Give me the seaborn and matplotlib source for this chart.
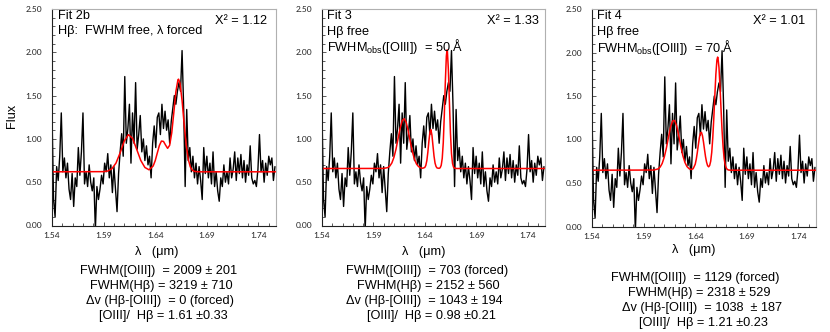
import matplotlib
matplotlib.use("Agg")
import matplotlib.pyplot as plt
import numpy as np
import pandas as pd
import seaborn as sns
from matplotlib.ticker import MultipleLocator, FixedLocator

# ---------------- data ----------------
wavelength = [
    1.5400, 1.5415, 1.5430, 1.5445, 1.5460, 1.5475, 1.5490, 1.5505, 1.5520, 1.5535,
    1.5550, 1.5565, 1.5580, 1.5595, 1.5610, 1.5625, 1.5640, 1.5655, 1.5670, 1.5685,
    1.5700, 1.5715, 1.5730, 1.5745, 1.5760, 1.5775, 1.5790, 1.5805, 1.5820, 1.5835,
    1.5850, 1.5865, 1.5880, 1.5895, 1.5910, 1.5925, 1.5940, 1.5955, 1.5970, 1.5985,
    1.6000, 1.6015, 1.6030, 1.6045, 1.6060, 1.6075, 1.6090, 1.6105, 1.6120, 1.6135,
    1.6150, 1.6165, 1.6180, 1.6195, 1.6210, 1.6225, 1.6240, 1.6255, 1.6270, 1.6285,
    1.6300, 1.6315, 1.6330, 1.6345, 1.6360, 1.6375, 1.6390, 1.6405, 1.6420, 1.6435,
    1.6450, 1.6465, 1.6480, 1.6495, 1.6510, 1.6525, 1.6540, 1.6555, 1.6570, 1.6585,
    1.6600, 1.6615, 1.6630, 1.6645, 1.6660, 1.6675, 1.6690, 1.6705, 1.6720, 1.6735,
    1.6750, 1.6765, 1.6780, 1.6795, 1.6810, 1.6825, 1.6840, 1.6855, 1.6870, 1.6885,
    1.6900, 1.6915, 1.6930, 1.6945, 1.6960, 1.6975, 1.6990, 1.7005, 1.7020, 1.7035,
    1.7050, 1.7065, 1.7080, 1.7095, 1.7110, 1.7125, 1.7140, 1.7155, 1.7170, 1.7185,
    1.7200, 1.7215, 1.7230, 1.7245, 1.7260, 1.7275, 1.7290, 1.7305, 1.7320, 1.7335,
    1.7350, 1.7365, 1.7380, 1.7395, 1.7410, 1.7425, 1.7440, 1.7455, 1.7470, 1.7485,
    1.7500, 1.7515, 1.7530, 1.7545, 1.7560,
]
flux = [
    1.30, 0.30, 0.10, 0.68, 0.52, 0.80, 1.30, 0.62, 0.78, 0.55,
    0.72, 0.42, 0.30, 0.60, 0.22, 0.55, 0.45, 0.90, 0.58, 0.85,
    1.30, 0.48, 0.62, 0.45, 0.70, 0.50, 0.40, 0.55, -0.05, 0.45,
    0.30, 0.42, 0.58, 0.48, 0.72, 0.62, 0.83, 0.55, 0.70, 0.38,
    0.68, 0.42, 0.16, 0.60, 0.85, 1.06, 0.80, 1.72, 0.95, 1.12,
    1.40, 0.72, 1.30, 0.95, 1.65, 0.88, 1.05, 1.27, 0.85, 1.00,
    0.75, 0.92, 0.70, 0.80, 0.55, 0.95, 1.15, 0.90, 1.25, 1.30,
    1.05, 1.40, 1.12, 1.32, 1.10, 1.22, 0.95, 1.20, 1.35, 1.50,
    1.40, 1.55, 1.65, 1.55, 2.02, 1.38, 0.45, 1.34, 0.75, 0.90,
    0.62, 0.80, 0.55, 0.72, 0.48, 0.68, 0.52, 0.30, 0.90, 0.60,
    0.80, 0.55, 0.72, 0.48, 0.85, 0.45, 0.62, 0.40, 0.28, 0.55,
    0.45, 0.70, 0.50, 0.62, 0.48, 0.78, 0.55, 0.65, 0.85, 0.52,
    0.78, 0.60, 0.82, 0.55, 0.75, 0.50, 0.70, 0.58, 0.92, 0.55,
    0.48, 0.52, 0.45, 0.65, 1.05, 0.62, 0.75, 0.50, 0.72, 0.58,
    0.80, 0.70, 0.78, 0.52, 0.68,
]

fit2b_wl = [1.540, 1.590, 1.594, 1.598, 1.602, 1.606, 1.610, 1.614, 1.618, 1.622,
            1.626, 1.630, 1.634, 1.638, 1.640, 1.642, 1.644, 1.646, 1.648, 1.650,
            1.652, 1.654, 1.656, 1.658, 1.660, 1.662, 1.6626, 1.664, 1.666, 1.668,
            1.670, 1.672, 1.674, 1.676, 1.678, 1.682, 1.757]
fit2b_flux = [0.620, 0.622, 0.629, 0.655, 0.721, 0.839, 0.975, 1.049, 1.007, 0.881,
              0.751, 0.670, 0.643, 0.687, 0.749, 0.837, 0.923, 0.975, 0.971, 0.929,
              0.891, 0.927, 1.070, 1.302, 1.544, 1.683, 1.690, 1.644, 1.444, 1.173,
              0.931, 0.765, 0.676, 0.638, 0.625, 0.620, 0.620]

fit3_wl = [1.540, 1.600, 1.604, 1.606, 1.608, 1.610, 1.612, 1.614, 1.616, 1.618,
           1.620, 1.622, 1.624, 1.626, 1.628, 1.630, 1.632, 1.634, 1.636, 1.638,
           1.640, 1.641, 1.642, 1.643, 1.644, 1.645, 1.6458, 1.646, 1.647, 1.648,
           1.649, 1.650, 1.651, 1.652, 1.654, 1.655, 1.656, 1.657, 1.658, 1.659,
           1.660, 1.661, 1.6617, 1.662, 1.663, 1.664, 1.665, 1.666, 1.667, 1.668,
           1.669, 1.671, 1.757]
fit3_flux = [0.658, 0.659, 0.669, 0.687, 0.723, 0.787, 0.882, 1.002, 1.122, 1.210,
             1.234, 1.188, 1.087, 0.964, 0.851, 0.764, 0.709, 0.680, 0.666, 0.661,
             0.670, 0.693, 0.748, 0.846, 0.972, 1.077, 1.108, 1.106, 1.041, 0.920,
             0.802, 0.721, 0.681, 0.664, 0.660, 0.667, 0.695, 0.775, 0.956, 1.269,
             1.653, 1.955, 2.028, 2.015, 1.793, 1.418, 1.066, 0.832, 0.718, 0.674,
             0.662, 0.658, 0.658]

fit4_wl = [1.540, 1.600, 1.604, 1.606, 1.608, 1.610, 1.612, 1.614, 1.616, 1.618,
           1.620, 1.622, 1.624, 1.626, 1.628, 1.630, 1.632, 1.634, 1.636, 1.638,
           1.640, 1.641, 1.642, 1.643, 1.644, 1.645, 1.646, 1.647, 1.648, 1.649,
           1.650, 1.651, 1.652, 1.653, 1.654, 1.655, 1.656, 1.657, 1.658, 1.659,
           1.660, 1.661, 1.6617, 1.662, 1.663, 1.664, 1.665, 1.666, 1.667, 1.668,
           1.669, 1.670, 1.671, 1.672, 1.674, 1.757]
fit4_flux = [0.647, 0.649, 0.662, 0.683, 0.725, 0.797, 0.898, 1.022, 1.138, 1.212,
             1.219, 1.157, 1.047, 0.924, 0.815, 0.737, 0.689, 0.665, 0.655, 0.664,
             0.716, 0.773, 0.849, 0.937, 1.019, 1.073, 1.083, 1.045, 0.972, 0.884,
             0.801, 0.739, 0.699, 0.686, 0.702, 0.751, 0.853, 1.020, 1.246, 1.507,
             1.751, 1.912, 1.947, 1.941, 1.829, 1.610, 1.349, 1.102, 0.914, 0.785,
             0.710, 0.674, 0.657, 0.650, 0.647, 0.647]

panel_titles = [["Fit 2b", "H\u03b2:  FWHM free, \u03bb forced"],
                ["Fit 3", "H\u03b2 free", "FWHM$_{\\mathrm{obs}}$([OIII])  = 50 \u00c5"],
                ["Fit 4", "H\u03b2 free", "FWHM$_{\\mathrm{obs}}$([OIII])  = 70 \u00c5"]]
chi2_labels = ["X\u00b2 = 1.12", "X\u00b2 = 1.33", "X\u00b2 = 1.01"]
result_lines = [
    ["FWHM([OIII])  = 2009 \u00b1 201", "FWHM(H\u03b2) = 3219 \u00b1 710",
     "\u0394v (H\u03b2-[OIII])  = 0 (forced)", "[OIII]/  H\u03b2 = 1.61 \u00b10.33"],
    ["FWHM([OIII])  = 703 (forced)", "FWHM(H\u03b2) = 2152 \u00b1 560",
     "\u0394v (H\u03b2-[OIII])  = 1043 \u00b1 194", "[OIII]/  H\u03b2 = 0.98 \u00b10.21"],
    ["FWHM([OIII])  = 1129 (forced)", "FWHM(H\u03b2) = 2318 \u00b1 529",
     "\u0394v (H\u03b2-[OIII])  = 1038  \u00b1 187", "[OIII]/  H\u03b2 = 1.21 \u00b10.23"],
]
xticks = [1.54, 1.59, 1.64, 1.69, 1.74]
yticks = [0.00, 0.50, 1.00, 1.50, 2.00, 2.50]

# ---------------- style ----------------
sns.set_style("ticks")
plt.rcParams["font.family"] = ["Liberation Sans", "DejaVu Sans"]
plt.rcParams["text.color"] = "black"
plt.rcParams["mathtext.fontset"] = "custom"
plt.rcParams["mathtext.rm"] = "Liberation Sans"
plt.rcParams["mathtext.it"] = "Liberation Sans:italic"

FS = 9.2
W, H = 830, 332
fig = plt.figure(figsize=(W / 100, H / 100), dpi=100)

spec = pd.DataFrame({"wl": wavelength, "flux": flux})
models = [pd.DataFrame({"wl": fit2b_wl, "flux": fit2b_flux}),
          pd.DataFrame({"wl": fit3_wl, "flux": fit3_flux}),
          pd.DataFrame({"wl": fit4_wl, "flux": fit4_flux})]

# pixel layout: (left, right, top, bottom)
boxes = [(52, 276, 9, 225.5), (322, 545, 9, 225.5), (592, 816, 9, 226.5)]
title_x = [58, 327, 597]
title_y = [[16, 31], [16, 31.5, 46.5], [16, 32.5, 47.5]]
chi_x = [267, 538.5, 805]
xlabel_pos = [(157, 252), (424, 252), (694, 250)]
res_x = [[158.5, 161.7, 159.7, 163], [426.7, 428.3, 424, 431.5], [695.3, 699, 701.7, 703]]
res_y = [[271, 286, 301, 316], [271, 286, 301, 316], [278.3, 293.3, 308.3, 323]]

def fx(x):
    return x / W

def fy(y):
    return 1 - y / H

for k, (l, r, t, b) in enumerate(boxes):
    ax = fig.add_axes([fx(l), fy(b), (r - l) / W, (b - t) / H])
    sns.lineplot(data=spec, x="wl", y="flux", ax=ax, color="black", lw=1.0,
                 estimator=None, sort=False)
    sns.lineplot(data=models[k], x="wl", y="flux", ax=ax, color="#ff0000", lw=1.1,
                 estimator=None, sort=False)
    ax.set_xlim(1.54, 1.757)
    ax.set_ylim(0, 2.5)
    ax.set_xlabel("")
    ax.set_ylabel("")
    ax.xaxis.set_major_locator(FixedLocator(xticks))
    ax.xaxis.set_minor_locator(MultipleLocator(0.01))
    ax.yaxis.set_major_locator(FixedLocator(yticks))
    ax.yaxis.set_minor_locator(MultipleLocator(0.1))
    ax.set_xticklabels([f"{v:.2f}" for v in xticks], fontsize=6, family="Lato",
                       color="#222222")
    ax.set_yticklabels([f"{v:.2f}" for v in yticks], fontsize=6, family="Lato",
                       color="#222222")
    ax.tick_params(axis="both", which="major", direction="in", length=3, width=0.6,
                   color="#404040")
    ax.tick_params(axis="both", which="minor", direction="in", length=2, width=0.6,
                   color="#404040")
    ax.tick_params(axis="y", which="both", pad=7)
    ax.tick_params(axis="x", which="both", pad=5)
    ax.tick_params(axis="both", which="both", top=False, right=False)
    for s in ["left", "bottom"]:
        ax.spines[s].set_color("#202020")
        ax.spines[s].set_linewidth(0.8)
    for s in ["top", "right"]:
        ax.spines[s].set_visible(True)
        ax.spines[s].set_color("#b0b0b0")
        ax.spines[s].set_linewidth(0.8)

    for txt, yy in zip(panel_titles[k], title_y[k]):
        fig.text(fx(title_x[k]), fy(yy), txt, ha="left", va="center", fontsize=FS)
    fig.text(fx(chi_x[k]), fy(20.7), chi2_labels[k], ha="right", va="center",
             fontsize=FS)
    xl, yl = xlabel_pos[k]
    fig.text(fx(xl), fy(yl), "\u03bb   (\u03bcm)", ha="center", va="center",
             fontsize=FS)
    for txt, xx, yy in zip(result_lines[k], res_x[k], res_y[k]):
        fig.text(fx(xx), fy(yy), txt, ha="center", va="center", fontsize=FS)

fig.text(fx(12), fy(116), "Flux", rotation=90, ha="center", va="center",
         fontsize=FS)

fig.savefig("out.png", dpi=100)
